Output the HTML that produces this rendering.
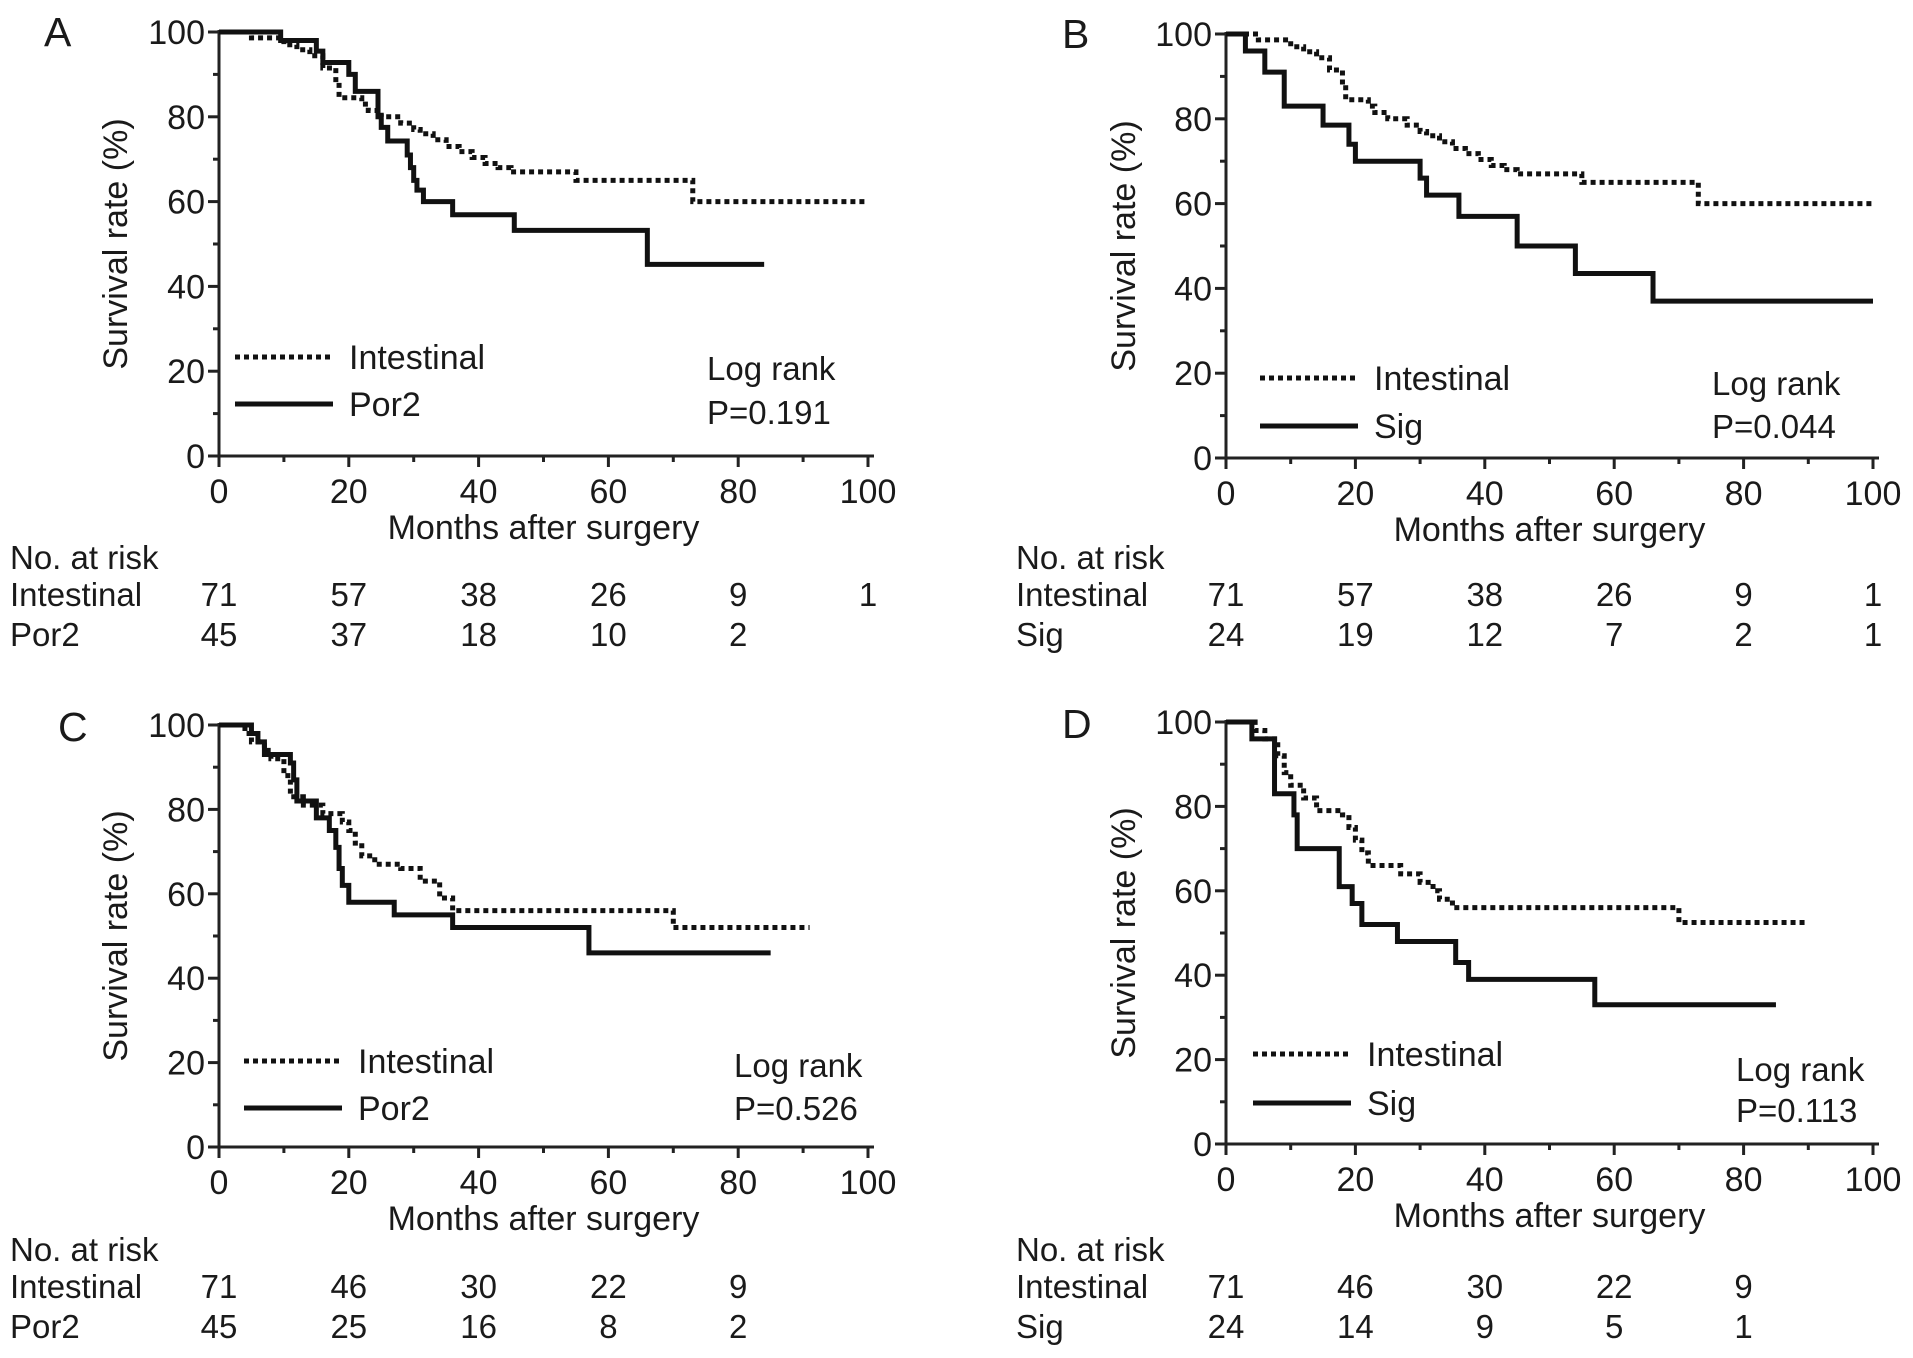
<!DOCTYPE html>
<html><head><meta charset="utf-8">
<style>
html,body{margin:0;padding:0;background:#fff;}
svg{display:block;font-family:"Liberation Sans",Arial,sans-serif;}
text{fill:#1a1a1a;}
</style></head>
<body>
<svg id="fig" width="1913" height="1358" viewBox="0 0 1913 1358" xmlns="http://www.w3.org/2000/svg"></svg>
<script>
// ---- data ----
const xTicks = [0,20,40,60,80,100];
const yTicks = [0,20,40,60,80,100];
const intestA_t = [0,5,10,12,14,16,18,18.5,22,23,25,28,30,31,33,35,37,39,41,43,45,55,73];
const intestA_s = [100,98.6,97,95.8,94.4,91.5,88,84.5,83,81.5,80,78.5,77,76,74.6,73,71.8,70.4,69,68,67,65,60];
const por2A_t = [0,9.5,15,16,20,21,24.5,25,26,29,29.5,30,30.5,31.5,36,45.5,66];
const por2A_s = [100,98,95.5,92.8,90,86,80,77.5,74.3,71,68,65,62.7,60,56.9,53.2,45.2];
const sigB_t = [0,3,6,9,15,19,20,30,31,36,45,54,66];
const sigB_s = [100,96,91,83,78.5,74,70,66,62,57,50,43.5,37];
const intestC_t = [0,4,5,7,8,10,11,13,16,19,20,21,22,24,28,31,34,36,70];
const intestC_s = [100,98,96,94,92,88,83,81,79,77,75,72,69,67,66,63,59,56,52];
const por2C_t = [0,5,6,7,11,11.5,12,15,17,18,18.5,19,20,27,36,57];
const por2C_s = [100,98,96,93,91,87,82,78,75,71,66,62,58,55,52,46];
const intestD_t = [0,4.5,6,8,9,10,12,14,18,19,20,21,22,27,30,32,33,35,70];
const intestD_s = [100,98,96,92,88,85,82,79,78,75,72,69,66,64,62,60,58,56,52.5];
const sigD_t = [0,4,7.5,10.5,11,17.5,19.5,21,26.5,35.5,37.5,57];
const sigD_s = [100,96,83,78,70,61,57,52,48,43,39,33];
const riskIntAB = [71,57,38,26,9,1];
const riskPor2A = [45,37,18,10,2];
const riskSigB = [24,19,12,7,2,1];
const riskIntCD = [71,46,30,22,9];
const riskPor2C = [45,25,16,8,2];
const riskSigD = [24,14,9,5,1];

const panels = [
 {id:'a',label:'A',x0:219,x1:868,y100:32,y0:456,
  series:[{t:intestA_t,s:intestA_s,end:100,dash:true,name:'Intestinal'},{t:por2A_t,s:por2A_s,end:84,dash:false,name:'Por2'}],
  p:'P=0.191',leg:[235,333,357,404],logx:707,logy:[368,412],risky:[557,594,634],
  risk:[riskIntAB,riskPor2A],rx:10,labx:44,laby:46,ytx:116},
 {id:'b',label:'B',x0:1226,x1:1873,y100:34,y0:458,
  series:[{t:intestA_t,s:intestA_s,end:100,dash:true,name:'Intestinal'},{t:sigB_t,s:sigB_s,end:100,dash:false,name:'Sig'}],
  p:'P=0.044',leg:[1260,1358,378,426],logx:1712,logy:[383,426],risky:[557,594,634],
  risk:[riskIntAB,riskSigB],rx:1016,labx:1062,laby:48,ytx:1124},
 {id:'c',label:'C',x0:219,x1:868,y100:725,y0:1147,
  series:[{t:intestC_t,s:intestC_s,end:91,dash:true,name:'Intestinal'},{t:por2C_t,s:por2C_s,end:85,dash:false,name:'Por2'}],
  p:'P=0.526',leg:[244,342,1061,1108],logx:734,logy:[1065,1108],risky:[1249,1286,1326],
  risk:[riskIntCD,riskPor2C],rx:10,labx:58,laby:741,ytx:116},
 {id:'d',label:'D',x0:1226,x1:1873,y100:722,y0:1144,
  series:[{t:intestD_t,s:intestD_s,end:90,dash:true,name:'Intestinal'},{t:sigD_t,s:sigD_s,end:85,dash:false,name:'Sig'}],
  p:'P=0.113',leg:[1253,1351,1054,1103],logx:1736,logy:[1069,1110],risky:[1249,1286,1326],
  risk:[riskIntCD,riskSigD],rx:1016,labx:1062,laby:738,ytx:1124}
];

const NS='http://www.w3.org/2000/svg';
const svg=document.getElementById('fig');
function mk(tag,attrs,parent){const e=document.createElementNS(NS,tag);for(const k in attrs)e.setAttribute(k,attrs[k]);(parent||svg).appendChild(e);return e;}
function txt(s,attrs,parent){const e=mk('text',attrs,parent);e.textContent=s;return e;}

panels.forEach(P=>{
 const g=mk('g',{});
 
 
 const X=t=>P.x0+(P.x1-P.x0)*t/100;
 const Y=v=>P.y0+(P.y100-P.y0)*v/100;
 const lab=txt(P.label,{x:P.labx,y:P.laby,'font-size':41},g);
 
 
 const ax=mk('path',{d:`M${P.x0},${Y(100)-2} V${P.y0} H${X(100)+6}`,stroke:'#222','stroke-width':3,fill:'none'},g);
 
 
 for(let v=0;v<=100;v+=10){
  const major=v%20===0;
  mk('line',{x1:P.x0-(major?11:6),x2:P.x0,y1:Y(v),y2:Y(v),stroke:'#222','stroke-width':3},g);
  mk('line',{x1:X(v),x2:X(v),y1:P.y0,y2:P.y0+(major?11:6),stroke:'#222','stroke-width':3},g);
 }
 yTicks.forEach(v=>{
  const t=txt(String(v),{x:P.x0-14,y:Y(v)+12,'font-size':34,'text-anchor':'end'},g);
  
  
 });
 xTicks.forEach(v=>{
  const t=txt(String(v),{x:X(v),y:P.y0+47,'font-size':34,'text-anchor':'middle'},g);
  
  
 });
 const xt=txt('Months after surgery',{x:(P.x0+P.x1)/2,y:P.y0+83,'font-size':34,'text-anchor':'middle'},g);
 
 
 const yc=(P.y0+P.y100)/2;
 const yt=txt('Survival rate (%)',{x:0,y:0,'font-size':34,'text-anchor':'middle',transform:`translate(${P.ytx+11},${yc}) rotate(-90)`},g);
 
 
 P.series.forEach(S=>{
  let d=`M${X(S.t[0])},${Y(S.s[0])}`;
  for(let i=1;i<S.t.length;i++){d+=` H${X(S.t[i])} V${Y(S.s[i])}`;}
  d+=` H${X(S.end)}`;
  const p=mk('path',{d:d,fill:'none',stroke:'#111','stroke-width':S.dash?5:5,'stroke-dasharray':S.dash?'5 4':'none'},g);
  
  
 });
 P.series.forEach((S,i)=>{
  const ly=P.leg[2+i];
  const l=mk('line',{x1:P.leg[0],x2:P.leg[1],y1:ly,y2:ly,stroke:'#111','stroke-width':5,'stroke-dasharray':S.dash?'5 4':'none'},g);
  
  
  const t=txt(S.name,{x:P.leg[1]+16,y:ly+12,'font-size':34},g);
  
  
 });
 const lr=txt('Log rank',{x:P.logx,y:P.logy[0]+12,'font-size':33},g);
 
 
 const pv=txt(P.p,{x:P.logx,y:P.logy[1]+12,'font-size':33},g);
 
 
 const nr=txt('No. at risk',{x:P.rx,y:P.risky[0]+12,'font-size':33},g);
 
 
 P.series.forEach((S,i)=>{
  const ry=P.risky[1+i]+12;
  const rl=txt(S.name,{x:P.rx,y:ry,'font-size':33},g);
  
  
  P.risk[i].forEach((n,j)=>{
   const c=txt(String(n),{x:X(xTicks[j]),y:ry,'font-size':33,'text-anchor':'middle'},g);
   
   
  });
 });
});
</script>
</body></html>
